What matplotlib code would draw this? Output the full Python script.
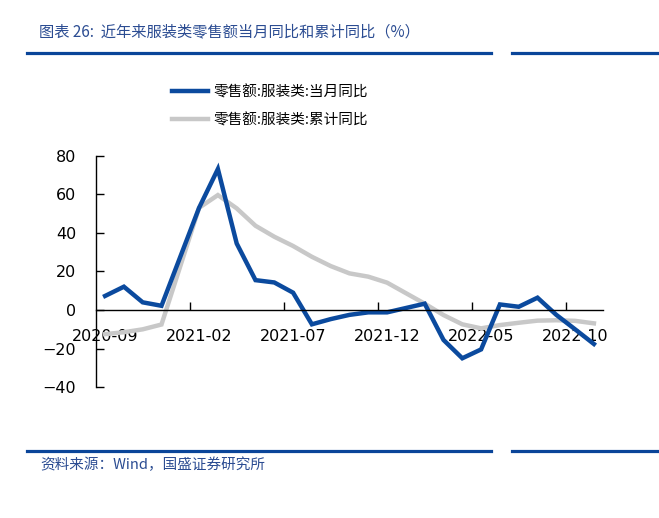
import numpy as np
import matplotlib
matplotlib.use("Agg")
import matplotlib.pyplot as plt
from matplotlib.lines import Line2D

plt.rcParams['font.family'] = ['DejaVu Sans', 'Noto Sans CJK SC']
CJK = ['Noto Sans CJK SC', 'DejaVu Sans']

# monthly categories 2020-09 .. 2022-11 (January has no separate release)
months = ['2020-09', '2020-10', '2020-11', '2020-12',
          '2021-01', '2021-02', '2021-03', '2021-04', '2021-05', '2021-06',
          '2021-07', '2021-08', '2021-09', '2021-10', '2021-11', '2021-12',
          '2022-01', '2022-02', '2022-03', '2022-04', '2022-05', '2022-06',
          '2022-07', '2022-08', '2022-09', '2022-10', '2022-11']
yoy_month = [7.3, 12.1, 4.0, 2.2,
             np.nan, 53.0, 73.1, 34.5, 15.5, 14.3,
             9.0, -7.4, -4.7, -2.5, -1.2, -1.2,
             np.nan, 3.3, -15.5, -25.0, -20.4, 2.9,
             1.7, 6.4, -2.5, -10.0, -17.6]
yoy_cum = [-12.5, -11.5, -10.0, -7.5,
           np.nan, 53.0, 59.6, 52.7, 43.7, 38.0,
           33.2, 27.6, 22.8, 19.0, 17.3, 14.2,
           np.nan, 3.3, -2.6, -7.4, -9.5, -7.8,
           -6.6, -5.5, -5.3, -5.6, -6.9]
names = ['零售额:服装类:当月同比', '零售额:服装类:累计同比']
label_months = ['2020-09', '2021-02', '2021-07', '2021-12', '2022-05', '2022-10']

blue = '#0B4A9E'
grey = '#C8C8C8'
title_col = '#2B4C92'

fig = plt.figure(figsize=(6.59, 5.18), dpi=100)
ax = fig.add_axes([0.1452, 0.2525, 0.7703, 0.4469])

idx = np.arange(len(months))
for vals, col, name in [(yoy_cum, grey, names[1]), (yoy_month, blue, names[0])]:
    v = np.array(vals, dtype=float)
    ok = ~np.isnan(v)
    ax.plot(idx[ok], v[ok], color=col, lw=3.2, label=name, solid_joinstyle='miter')

ax.set_xlim(-0.5, len(months) - 0.5)
ax.set_ylim(-40, 80)
ax.set_yticks(np.arange(-40, 81, 20))

ax.spines['top'].set_visible(False)
ax.spines['right'].set_visible(False)
ax.spines['bottom'].set_position(('data', 0))
ax.spines['bottom'].set_linewidth(1.0)
ax.spines['left'].set_linewidth(1.0)

# ticks on category boundaries, labels centred on categories
ax.set_xticks(np.arange(4.5, len(months) - 0.5, 5))
ax.set_xticklabels([])
ax.set_xticks([months.index(m) for m in label_months], minor=True)
ax.set_xticklabels(label_months, minor=True)
ax.tick_params(axis='x', which='major', direction='in', length=6, width=1)
ax.tick_params(axis='x', which='minor', length=0, pad=14, labelsize=11.5)
ax.tick_params(axis='y', direction='in', length=6, width=1, pad=14, labelsize=11.5)

# legend (reverse so monthly comes first)
h, l = ax.get_legend_handles_labels()
fig.legend(h[::-1], l[::-1], loc='upper left', bbox_to_anchor=(172 / 659, 1 - 85 / 518),
           frameon=False, borderpad=0, borderaxespad=0, handlelength=2.5,
           handletextpad=0.35, labelspacing=0.95, prop={'family': CJK, 'size': 10.5})

# header / footer
fig.text(39 / 659, 1 - 32 / 518, '图表 26:  近年来服装类零售额当月同比和累计同比（%）',
         family=CJK, fontsize=11, color=title_col, va='center', ha='left', style='italic')
fig.text(40 / 659, 1 - 465 / 518, '资料来源：Wind，国盛证券研究所',
         family=CJK, fontsize=10.5, color=title_col, va='center', ha='left', style='italic')
for yy in (52.5, 451):
    y = 1 - yy / 518
    fig.add_artist(Line2D([27 / 659, 491 / 659], [y, y], color='#0A4599', lw=2.3))
    fig.add_artist(Line2D([512 / 659, 1.0], [y, y], color='#0A4599', lw=2.3))

fig.savefig('out.png', dpi=100)
